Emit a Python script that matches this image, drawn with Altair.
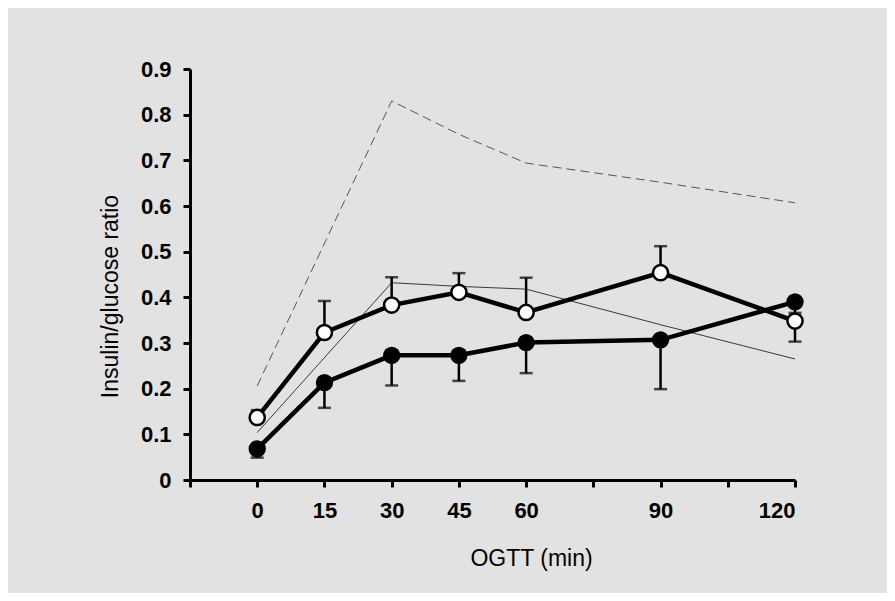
import altair as alt
import pandas as pd

# ---- data ----
times = [0, 15, 30, 45, 60, 90, 120]

open_mean = [0.137, 0.323, 0.383, 0.411, 0.367, 0.454, 0.348]
open_bar_end = [0.153, 0.392, 0.444, 0.453, 0.443, 0.512, 0.303]

filled_mean = [0.068, 0.213, 0.273, 0.273, 0.301, 0.307, 0.390]
filled_bar_end = [0.049, 0.158, 0.207, 0.217, 0.234, 0.199, 0.366]

thin_times = [0, 30, 45, 60, 90, 120]
thin_values = [0.104, 0.432, 0.424, 0.418, 0.340, 0.265]

dash_times = [0, 30, 45, 60, 90, 120]
dash_values = [0.206, 0.830, 0.757, 0.694, 0.652, 0.607]

x_ticks = [-15, 0, 15, 30, 45, 60, 75, 90, 105, 120]
y_ticks = [0, 0.1, 0.2, 0.3, 0.4, 0.5, 0.6, 0.7, 0.8, 0.9]

# ---- tables ----
df_open = pd.DataFrame({"t": times, "v": open_mean, "e": open_bar_end})
df_filled = pd.DataFrame({"t": times, "v": filled_mean, "e": filled_bar_end})
df_thin = pd.DataFrame({"t": thin_times, "v": thin_values})
df_dash = pd.DataFrame({"t": dash_times, "v": dash_values})

FONT = "Liberation Sans"

x_scale = alt.Scale(domain=[-15, 120], nice=False, zero=False)
y_scale = alt.Scale(domain=[0, 0.9], nice=False, zero=True)

x_axis = alt.Axis(
    values=x_ticks,
    labelExpr="(datum.value == -15 || datum.value == 75 || datum.value == 105) ? '' : datum.label",
    title="OGTT (min)",
    grid=False,
    domainColor="black", domainWidth=3,
    tickColor="black", tickWidth=3, tickSize=7,
    labelFont=FONT, labelFontSize=22, labelFontWeight="bold", labelColor="black",
    labelPadding=13,
    titleFont=FONT, titleFontSize=23, titleFontWeight="normal", titleColor="black",
    titleX=341, titleY=78, titleAlign="center", titleBaseline="middle",
)
y_axis = alt.Axis(
    values=y_ticks,
    labelExpr="datum.value == 0 ? '0' : format(datum.value, '.1f')",
    title="Insulin/glucose ratio",
    grid=False,
    domainColor="black", domainWidth=3,
    tickColor="black", tickWidth=3, tickSize=7,
    labelFont=FONT, labelFontSize=22, labelFontWeight="bold", labelColor="black",
    labelPadding=12,
    titleFont=FONT, titleFontSize=23, titleFontWeight="normal", titleColor="black",
    titleAngle=270, titleX=-80, titleY=227, titleAlign="center", titleBaseline="middle",
)

X = alt.X("t:Q", scale=x_scale, axis=x_axis)
Y = alt.Y("v:Q", scale=y_scale, axis=y_axis)

dash_line = alt.Chart(df_dash).mark_line(
    color="#555555", strokeWidth=1, strokeDash=[9, 5]
).encode(x=X, y=Y)

thin_line = alt.Chart(df_thin).mark_line(
    color="#3a3a3a", strokeWidth=1
).encode(x=X, y=Y)

def errbars(df):
    rule = alt.Chart(df).mark_rule(color="black", strokeWidth=2.5).encode(
        x=alt.X("t:Q", scale=x_scale), y=alt.Y("v:Q", scale=y_scale), y2="e:Q"
    )
    cap = alt.Chart(df).mark_tick(
        color="black", orient="horizontal", size=13, thickness=2.5
    ).encode(x=alt.X("t:Q", scale=x_scale), y=alt.Y("e:Q", scale=y_scale))
    return rule + cap

open_line = alt.Chart(df_open).mark_line(color="black", strokeWidth=4.5).encode(x=X, y=Y)
filled_line = alt.Chart(df_filled).mark_line(color="black", strokeWidth=4.5).encode(x=X, y=Y)

open_pts = alt.Chart(df_open).mark_point(
    shape="circle", filled=True, fill="white", stroke="black", strokeWidth=2.5,
    size=230, opacity=1
).encode(x=X, y=Y)
filled_pts = alt.Chart(df_filled).mark_point(
    shape="circle", filled=True, color="black", size=300, opacity=1
).encode(x=X, y=Y)

chart = alt.layer(
    dash_line, thin_line,
    errbars(df_open), errbars(df_filled),
    open_line, filled_line,
    filled_pts, open_pts,
).properties(
    width=605, height=411,
    autosize=alt.AutoSizeParams(type="none"),
    padding={"left": 182, "top": 61, "right": 92, "bottom": 113},
    background="#e2e2e2",
).configure_view(stroke=None)

chart.save("out.html", embed_options={"renderer": "svg", "actions": False})
